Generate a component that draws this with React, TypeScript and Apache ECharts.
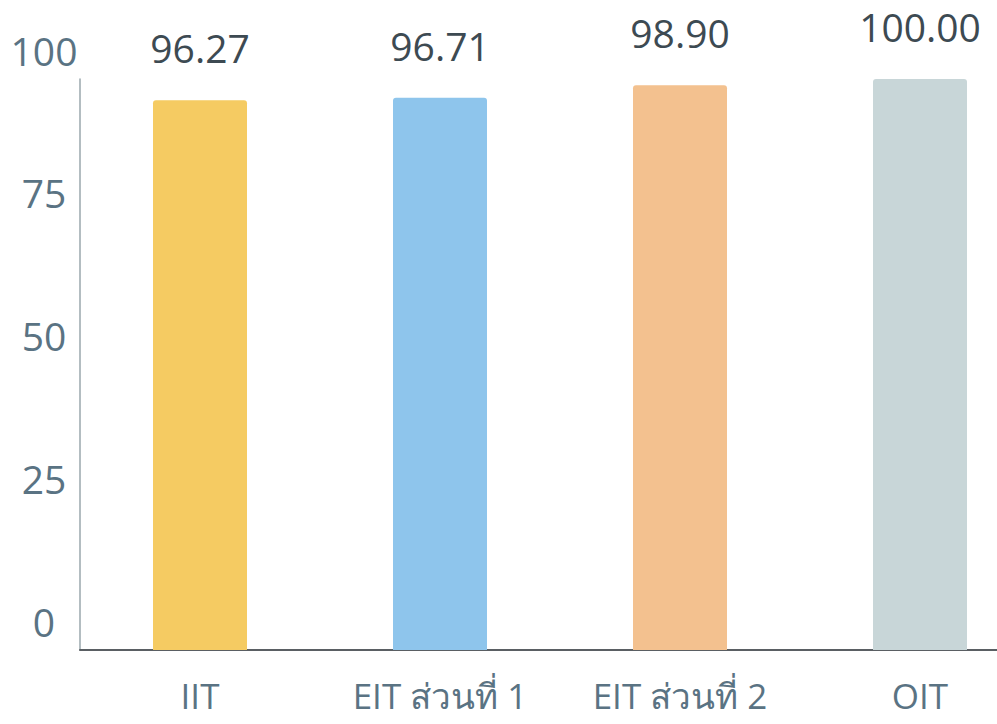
import React, { useEffect, useRef } from "react";
import * as echarts from "echarts";

const categories = ["IIT", "EIT ส่วนที่ 1", "EIT ส่วนที่ 2", "OIT"];
const values = [96.27, 96.71, 98.9, 100.0];
const barColors = ["#f5cb62", "#8ec5ec", "#f3c18f", "#c8d6d8"];
const yTicks = [0, 25, 50, 75, 100];

const FONT = "'Open Sans', 'Noto Sans', 'DejaVu Sans', sans-serif";

export default function App() {
  const ref = useRef<HTMLDivElement>(null);
  useEffect(() => {
    if (!ref.current) return;
    const chart = echarts.init(ref.current, undefined, { renderer: "svg" });
    chart.setOption({
      animation: false,
      backgroundColor: "#ffffff",
      grid: {
        left: 80,
        top: 79,
        width: 960,
        height: 571,
        containLabel: false,
        outerBoundsMode: "none",
      },
      xAxis: {
        type: "category",
        data: categories,
        axisLine: { show: true, lineStyle: { color: "#5a5f63", width: 2 } },
        axisTick: { show: false },
        axisLabel: {
          color: "#5a7383",
          fontSize: 35,
          fontFamily: FONT,
          margin: 28,
          interval: 0,
        },
      },
      yAxis: {
        type: "value",
        min: 0,
        max: 100,
        interval: 25,
        axisLine: { show: true, lineStyle: { color: "#9aa7ad", width: 1.5 } },
        axisTick: { show: false },
        splitLine: { show: false },
        axisLabel: {
          color: "#5a7383",
          fontSize: 39,
          fontFamily: FONT,
          align: "center",
          verticalAlign: "bottom",
          lineHeight: 58,
          margin: 36,
          formatter: (v: number) => (yTicks.includes(v) ? String(v) : ""),
        },
      },
      series: [
        {
          type: "bar",
          barWidth: 94,
          data: values.map((v, i) => ({
            value: v,
            itemStyle: { color: barColors[i], borderRadius: [3, 3, 0, 0] },
          })),
          label: {
            show: true,
            position: "top",
            distance: 33,
            color: "#3d4a52",
            fontSize: 39,
            fontFamily: FONT,
            formatter: (p: any) => Number(p.value).toFixed(2),
          },
        },
      ],
    });
    return () => chart.dispose();
  }, []);
  return (
    <div
      ref={ref}
      style={{ position: "absolute", left: 0, top: 0, width: 997, height: 724, background: "#fff" }}
    />
  );
}
